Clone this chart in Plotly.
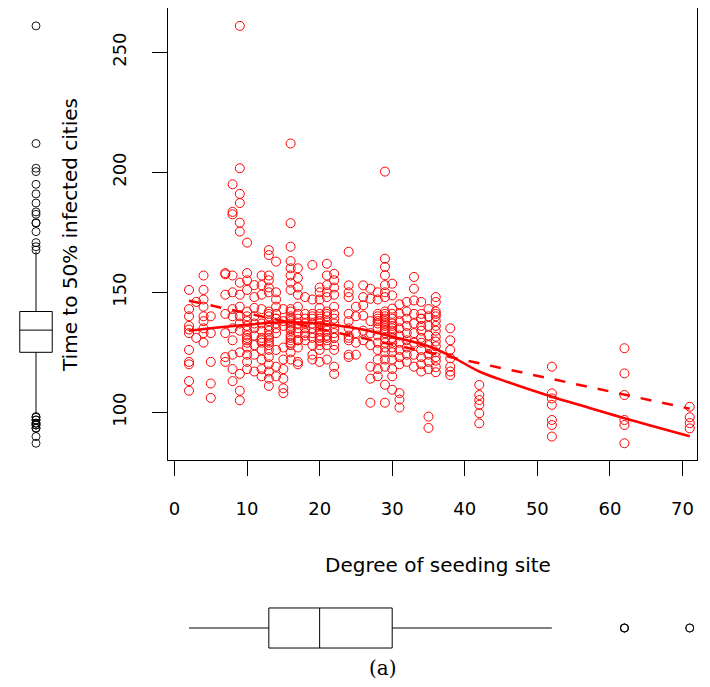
import plotly.graph_objects as go

# degree of seeding site (x columns) and time to 50% infected cities per column
degrees = [2, 3, 4, 5, 7, 8, 9, 10, 11, 12, 13, 14, 15, 16, 17, 18, 19, 20, 21, 22,
           24, 25, 26, 27, 28, 29, 30, 31, 32, 33, 34, 35, 36, 38, 42, 52, 62, 71]

times_by_degree = [
    [151, 143, 140, 136, 134.5, 133, 126, 121, 120, 113, 109],
    [146, 131],
    [157, 151, 147, 140, 144, 138, 135, 133, 129],
    [140, 133, 121, 112, 106],
    [158, 157.5, 149, 141, 133, 123, 121],
    [195, 183.5, 182.5, 157, 150, 143, 140, 135, 130, 124, 118, 113],
    [261, 201.7, 191, 187.2, 179, 175.3, 154, 149, 144, 140, 137, 134, 125, 116, 109, 105],
    [170.7, 158, 155, 151, 131, 129, 142, 140, 138, 136, 134, 132, 130, 127, 124, 121, 118],
    [153, 148, 143.5, 140, 137, 135, 132, 128, 124, 117],
    [157, 153, 149, 143, 131, 129, 137, 134, 130, 126, 122, 118, 115],
    [167.6, 165.5, 157, 155, 152, 150, 141, 131, 129, 142, 140, 138, 136, 134, 132, 130,
     128, 126, 123, 120, 117, 114, 111],
    [162.8, 150, 147, 144, 139, 141, 139, 137, 135, 133, 126, 119, 115],
    [143, 138, 136, 127, 122, 118, 114, 110, 108],
    [212, 178.8, 169, 163, 160, 157, 154, 151, 143, 131, 129, 142, 140, 139, 138, 137,
     136, 135, 134, 132, 130, 128, 125, 122],
    [160, 156, 152, 149, 144, 130, 141, 139, 137, 135, 133, 130, 127, 120, 121],
    [148, 132, 130, 141, 139, 137, 135, 133],
    [161.4, 147, 140, 141, 139, 137, 135, 133, 131, 128, 124, 122],
    [152, 150, 147, 143.5, 131, 141, 139, 138, 137, 136, 134, 132, 130, 128, 126, 121],
    [161.9, 157, 153, 150, 148, 141, 131, 142, 140, 138, 136, 134, 132, 130, 128, 122],
    [157.7, 155, 152, 149, 144, 131, 141, 139, 137, 135, 133, 131, 128, 126, 119, 116],
    [166.9, 152.9, 150, 148, 131, 141, 138, 135, 132, 130, 124, 123],
    [144, 140, 133, 129, 124],
    [152.9, 148, 144.6, 140.3, 134, 130],
    [151.5, 147.3, 138, 133, 128, 119, 114, 104],
    [150, 147, 140, 138, 141, 139, 137, 135, 132, 129, 126, 122, 118, 115],
    [200.3, 164, 160.6, 157.1, 153, 150, 148, 141, 139, 142, 140, 138, 137, 136, 135,
     134, 133, 131, 129, 127, 125, 122, 119, 111.5, 104],
    [153.6, 148.7, 143.2, 141, 139, 137, 136, 135, 134, 133, 131, 129, 127, 125, 122,
     118, 115, 109.4],
    [145, 141, 138, 135, 132, 129, 126, 123, 120, 108, 105.3, 102],
    [146, 142, 139, 136, 133, 130, 127, 124, 121],
    [156.4, 151.5, 146.6, 141, 137, 133, 129, 124, 119],
    [146, 139, 141, 139, 136, 134, 131, 129, 126, 123, 120, 117],
    [143, 140, 136, 132, 128, 124, 121, 118, 98.2, 93.5],
    [148, 146, 141, 142, 140, 138, 136, 134, 131.5, 129.5, 127.5, 125, 123, 121.5,
     118.8, 116.7],
    [135, 130, 126, 122.5, 119, 117, 115.5],
    [111.4, 107.2, 105.1, 103.1, 99.6, 95.4],
    [119, 107.9, 105.8, 103.1, 96.8, 94.7, 89.9],
    [126.7, 116.2, 107.2, 96.8, 94.7, 87.1],
    [102.3, 97.9, 95.5, 93.3],
]

# smoother (solid) and linear fit (dashed)
smooth_x = [2, 5, 10, 15, 20, 25, 30, 35, 38, 42, 46, 52, 57, 62, 71]
smooth_y = [134, 135, 136.5, 137.5, 137, 135, 131.5, 127.5, 123.5, 117,
            112.5, 106.5, 102, 97.5, 90]
fit_x = [2, 71]
fit_y = [146.5, 101.5]

x_ticks = [0, 10, 20, 30, 40, 50, 60, 70]
y_ticks = [100, 150, 200, 250]

x_title = 'Degree of seeding site'
y_title = 'Time to 50% infected cities'
caption = '(a)'

deg_all = []
time_all = []
for d, vals in zip(degrees, times_by_degree):
    deg_all += [d] * len(vals)
    time_all += vals

# page body has an 8px margin, so the figure is drawn from (8, 8)
OFF = 8
W, H = 710 - 2 * OFF, 687 - 2 * OFF


def fx(p):
    return (p - OFF) / W


def fy(p):
    return 1 - (p - OFF) / H


# plot frame in page pixels: left 167.6, right 697, top 8, bottom 460
# y: value 100 at 412.3 px, 2.4 px per unit
x_range = [-0.95, 72.0]
y_range = [100 - (460 - 412.3) / 2.4, 100 + (412.3 - 8) / 2.4]
main_xdom = [fx(167.6), fx(697)]
main_ydom = [fy(460), fy(8)]

font = 'DejaVu Sans, sans-serif'

fig = go.Figure()

fig.add_trace(go.Scatter(
    x=deg_all, y=time_all, mode='markers',
    marker=dict(symbol='circle-open', size=9, color='red', line=dict(width=1)),
    showlegend=False, hoverinfo='skip'))

fig.add_trace(go.Scatter(
    x=smooth_x, y=smooth_y, mode='lines', line_shape='spline',
    line=dict(color='red', width=2.5), showlegend=False, hoverinfo='skip'))

fig.add_trace(go.Scatter(
    x=fit_x, y=fit_y, mode='lines',
    line=dict(color='red', width=2.5, dash='11px,11px'),
    showlegend=False, hoverinfo='skip'))


def box_style(point_width):
    return dict(boxpoints='outliers', pointpos=0, jitter=0, whiskerwidth=0,
                fillcolor='white', line=dict(color='black', width=1),
                marker=dict(symbol='circle-open', color='black', size=8,
                            line=dict(width=point_width)),
                showlegend=False, hoverinfo='skip')


# marginal boxplot of times (left)
fig.add_trace(go.Box(y=time_all, x0=0, width=1.16, xaxis='x2', yaxis='y2',
                     **box_style(0.9)))

# marginal boxplot of degrees (bottom); outliers repeat at the same spot
fig.add_trace(go.Box(x=deg_all, y0=0, width=1.43, orientation='h',
                     xaxis='x3', yaxis='y3', **box_style(0.5)))

axis_common = dict(showline=True, mirror=True, linecolor='black', linewidth=1,
                   ticks='outside', tickcolor='black', tickwidth=1,
                   showgrid=False, zeroline=False,
                   tickfont=dict(family=font, size=18, color='black'))

fig.update_layout(
    width=W, height=H,
    margin=dict(l=0, r=0, t=0, b=0),
    paper_bgcolor='white', plot_bgcolor='white',
    xaxis=dict(domain=main_xdom, range=x_range, tickvals=x_ticks, ticklen=15,
               ticklabelstandoff=17, anchor='y', **axis_common),
    yaxis=dict(domain=main_ydom, range=y_range, tickvals=y_ticks, ticklen=15,
               tickangle=-90, ticklabelstandoff=18, anchor='x', **axis_common),
    xaxis2=dict(domain=[0, fx(64)], range=[-1, 1], visible=False, anchor='y2'),
    yaxis2=dict(domain=main_ydom, range=y_range, visible=False, anchor='x2'),
    xaxis3=dict(domain=main_xdom, range=x_range, visible=False, anchor='y3'),
    yaxis3=dict(domain=[fy(656), fy(600)], range=[-1, 1], visible=False, anchor='x3'),
    annotations=[
        dict(text=x_title, x=fx(438), y=fy(565), xref='paper', yref='paper',
             xanchor='center', yanchor='middle', showarrow=False,
             font=dict(family=font, size=20, color='black')),
        dict(text=y_title, x=fx(70), y=fy(235), xref='paper', yref='paper',
             xanchor='center', yanchor='middle', textangle=-90, showarrow=False,
             font=dict(family=font, size=20, color='black')),
        dict(text=caption, x=fx(383), y=fy(668), xref='paper', yref='paper',
             xanchor='center', yanchor='middle', showarrow=False,
             font=dict(family='DejaVu Serif, serif', size=20, color='black')),
    ],
)

fig.write_html('out.html')
